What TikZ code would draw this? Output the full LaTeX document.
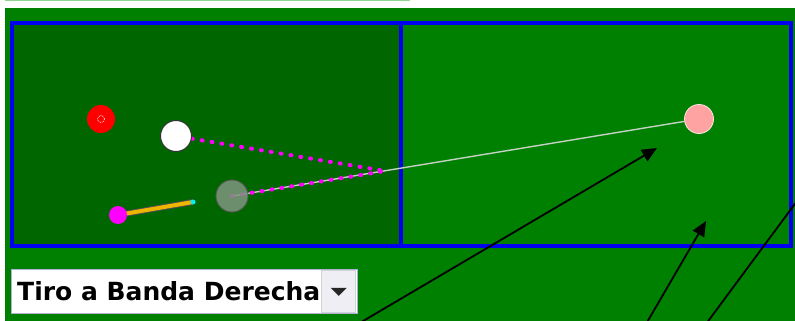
\documentclass[tikz,border=0pt]{standalone}
\usepackage{fontspec}
\newfontfamily\uifont{DejaVu Sans}
\usetikzlibrary{arrows.meta}
\definecolor{feltdark}{RGB}{0,102,0}
\definecolor{feltlight}{RGB}{0,128,0}
\definecolor{railblue}{RGB}{0,0,240}
\definecolor{cuegray}{RGB}{128,150,128}
\definecolor{targetpink}{RGB}{255,162,162}
\definecolor{stickgold}{RGB}{238,182,0}
\definecolor{pathpink}{RGB}{255,0,255}
\definecolor{tipcyan}{RGB}{0,240,240}
\definecolor{aimgray}{RGB}{195,210,195}
\definecolor{boxframe}{RGB}{175,175,215}
\definecolor{btnface}{RGB}{238,238,244}
\pgfdeclarelayer{balls}
\pgfsetlayers{main,balls}

\begin{document}
\begin{tikzpicture}[
    x=1pt, y=-1pt,
    rail line/.style={draw=railblue, line width=3.5pt},
    ball/.style={circle, inner sep=0pt, minimum size=#1},
    aim line/.style={draw=aimgray, line width=1.4pt},
    path dots/.style={draw=pathpink, line width=4pt, line cap=round, dash pattern=on 1pt off 9pt},
    pointer/.style={draw=black, line width=1.8pt, -{Triangle[length=15pt,width=13pt]}}
]
\useasboundingbox (0,0) rectangle (795,321);
\clip (0,0) rectangle (795,321);

% Background
\fill[white] (0,0) rectangle (795,321);
\fill[green!45!gray!60] (5,0) rectangle (410,1.5);
\fill[feltlight] (5,8) rectangle (795,321);
\fill[feltdark] (12,23) rectangle (401,246);

% Rails
\draw[rail line] (12,23) rectangle (791,246);
\draw[rail line] (401,23) -- (401,246);

% Balls
\begin{pgfonlayer}{balls}
\node[ball=28pt, fill=red] (redball) at (101,119) {};
\draw[white, line width=0.7pt, densely dotted] (redball.center) circle (3.5pt);
\node[ball=31pt, fill=white, draw=black!80, line width=1pt] (whiteball) at (176,136) {};
\node[ball=32pt, fill=cuegray, fill opacity=0.85, draw=black!65, line width=0.9pt] (cueball) at (232,196) {};
\node[ball=29pt, fill=targetpink, draw=pink!40, line width=0.8pt] (targetball) at (699,119) {};
\node[ball=18pt, fill=pathpink] (stickend) at (118,215) {};
\end{pgfonlayer}
\coordinate (bounce) at (385,171);
\coordinate (sticktip) at (193,202);

% Aim and ball paths
\draw[aim line] (cueball.center) -- (targetball);
\draw[path dots] (whiteball) -- (bounce) -- (cueball.center);

% Cue stick
\draw[black!70, line width=6pt] (stickend.center) -- (sticktip);
\draw[stickgold, line width=4pt] (stickend.center) -- (sticktip);
\fill[tipcyan] (sticktip) circle (2.5pt);

% Shot selector
\node[draw=boxframe, fill=white, line width=1pt, minimum width=346pt, minimum height=44pt,
      inner sep=0pt, anchor=north west] (shotbox) at (11,269) {};
\node[anchor=base west, inner sep=0pt, text=black,
      font=\uifont\bfseries\fontsize{25}{29}\selectfont] (shotlabel) at (17,300) {Tiro a Banda Derecha};
\node[fill=btnface, draw=gray!35, line width=0.6pt, minimum width=34pt, minimum height=42pt,
      inner sep=0pt, anchor=north east] (shotbutton) at (356,270) {};
\draw[cyan!25, line width=1pt] ([xshift=3pt,yshift=-10pt]shotbutton.south west) -- ([xshift=-2pt,yshift=-10pt]shotbutton.south east);
\fill[black!85] (shotbutton.center) ++(-8,-3.5) -- ++(16,0) -- ++(-8,8) -- cycle;

% Pointers
\coordinate (footA) at (358,324);
\coordinate (tipA) at (657,148);
\coordinate (footB) at (646,324);
\coordinate (tipB) at (706,221);
\coordinate (footC) at (706,324);
\coordinate (endC) at (800,197);
\draw[pointer] (footA) -- (tipA);
\draw[pointer] (footB) -- (tipB);
\draw[draw=black, line width=1.8pt] (footC) -- (endC);
\end{tikzpicture}
\end{document}
